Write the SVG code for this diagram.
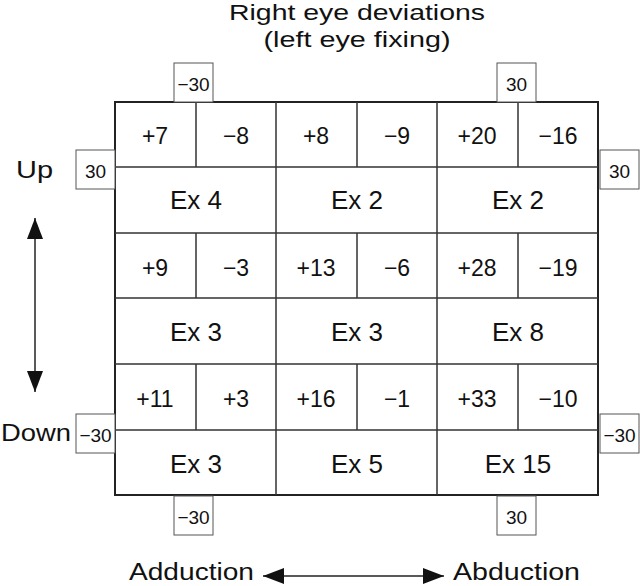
<svg xmlns="http://www.w3.org/2000/svg" width="640" height="586" viewBox="0 0 640 586">
<style>
text{font-family:"Liberation Sans",Arial,sans-serif;fill:#111;text-anchor:middle}
.t{font-size:22px}
.n{font-size:23px}
.e{font-size:26px}
.s{font-size:19px}
.l{font-size:23px}
.grid{fill:none;stroke:#222;stroke-width:2}
.in{stroke:#333;stroke-width:1.5}
.box{fill:#fff;stroke:#555;stroke-width:1}
</style>
<defs>
<marker id="ahb" viewBox="0 0 21 16" refX="21" refY="8" markerWidth="21" markerHeight="16" markerUnits="userSpaceOnUse" orient="auto-start-reverse"><path d="M0,0 L21,8 L0,16 z" fill="#111"/></marker>
</defs>
<g id="title"><text class="t" x="357" y="20" textLength="256" lengthAdjust="spacingAndGlyphs">Right eye deviations</text><text class="t" x="357" y="47" textLength="187" lengthAdjust="spacingAndGlyphs">(left eye fixing)</text></g>
<g id="grid">
<rect class="grid" x="115" y="102" width="483" height="393"/>
<path class="in" d="M276,102V495M437,102V495M115,233H598M115,364H598M115,167H598M115,298H598M115,430H598M196,102V167M357,102V167M518,102V167M196,233V298M357,233V298M518,233V298M196,364V430M357,364V430M518,364V430"/>
</g>
<g id="cell-1-1"><text class="n" x="155" y="144">+7</text><text class="n" x="236" y="144">−8</text><text class="e" x="196" y="209">Ex 4</text></g>
<g id="cell-1-2"><text class="n" x="316" y="144">+8</text><text class="n" x="397" y="144">−9</text><text class="e" x="357" y="209">Ex 2</text></g>
<g id="cell-1-3"><text class="n" x="477" y="144">+20</text><text class="n" x="558" y="144">−16</text><text class="e" x="518" y="209">Ex 2</text></g>
<g id="cell-2-1"><text class="n" x="155" y="276">+9</text><text class="n" x="236" y="276">−3</text><text class="e" x="196" y="341">Ex 3</text></g>
<g id="cell-2-2"><text class="n" x="316" y="276">+13</text><text class="n" x="397" y="276">−6</text><text class="e" x="357" y="341">Ex 3</text></g>
<g id="cell-2-3"><text class="n" x="477" y="276">+28</text><text class="n" x="558" y="276">−19</text><text class="e" x="518" y="341">Ex 8</text></g>
<g id="cell-3-1"><text class="n" x="155" y="407">+11</text><text class="n" x="236" y="407">+3</text><text class="e" x="196" y="473">Ex 3</text></g>
<g id="cell-3-2"><text class="n" x="316" y="407">+16</text><text class="n" x="397" y="407">−1</text><text class="e" x="357" y="473">Ex 5</text></g>
<g id="cell-3-3"><text class="n" x="477" y="407">+33</text><text class="n" x="558" y="407">−10</text><text class="e" x="518" y="473">Ex 15</text></g>
<g id="box-tl"><rect class="box" x="174" y="63" width="39" height="39"/><text class="s" x="193.5" y="91">−30</text></g>
<g id="box-tr"><rect class="box" x="497" y="63" width="39" height="39"/><text class="s" x="516.5" y="91">30</text></g>
<g id="box-lu"><rect class="box" x="76" y="150" width="39" height="39"/><text class="s" x="95.5" y="178">30</text></g>
<g id="box-ru"><rect class="box" x="600" y="150" width="39" height="39"/><text class="s" x="619.5" y="178">30</text></g>
<g id="box-ld"><rect class="box" x="76" y="414" width="39" height="39"/><text class="s" x="95.5" y="442">−30</text></g>
<g id="box-rd"><rect class="box" x="600" y="414" width="39" height="39"/><text class="s" x="619.5" y="442">−30</text></g>
<g id="box-bl"><rect class="box" x="174" y="496" width="39" height="39"/><text class="s" x="193.5" y="524">−30</text></g>
<g id="box-br"><rect class="box" x="497" y="496" width="39" height="39"/><text class="s" x="516.5" y="524">30</text></g>
<g id="labels">
<text class="l" x="34.5" y="178" textLength="37" lengthAdjust="spacingAndGlyphs">Up</text>
<text class="l" x="36" y="441" textLength="70" lengthAdjust="spacingAndGlyphs">Down</text>
<text class="l" x="191.5" y="580" textLength="125" lengthAdjust="spacingAndGlyphs">Adduction</text>
<text class="l" x="516.5" y="580" textLength="127" lengthAdjust="spacingAndGlyphs">Abduction</text>
</g>
<g id="connectors">
<line x1="35" y1="218" x2="35" y2="392" stroke="#222" stroke-width="1.5" marker-start="url(#ahb)" marker-end="url(#ahb)"/>
<line x1="263" y1="576" x2="444" y2="576" stroke="#222" stroke-width="1.5" marker-start="url(#ahb)" marker-end="url(#ahb)"/>
</g>
</svg>
